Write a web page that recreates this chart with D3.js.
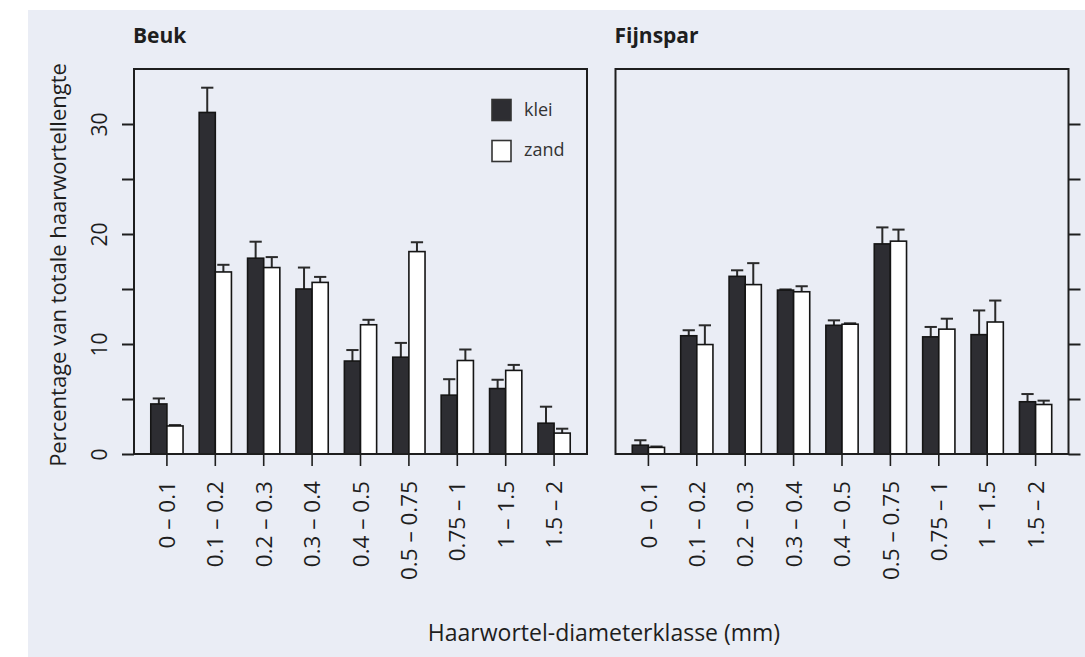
<!DOCTYPE html>
<html>
<head>
<meta charset="utf-8">
<script src="https://cdn.jsdelivr.net/npm/d3@7"></script>
<style>
  html, body { margin: 0; padding: 0; background: #ffffff; }
  svg { display: block; }
  text { font-family: "Open Sans", "Noto Sans", sans-serif; fill: #1e1e1e; }
</style>
</head>
<body>
<svg id="chart" width="1085" height="657"></svg>
<script>
// ---------- data ----------
const categories = ["0 \u2013 0.1", "0.1 \u2013 0.2", "0.2 \u2013 0.3", "0.3 \u2013 0.4", "0.4 \u2013 0.5",
                    "0.5 \u2013 0.75", "0.75 \u2013 1", "1 \u2013 1.5", "1.5 \u2013 2"];
const seriesNames = ["klei", "zand"];
const panelTitles = ["Beuk", "Fijnspar"];

// Beuk (beech) – mean and standard error
const beukKlei   = [4.55, 31.05, 17.8, 15.0, 8.45, 8.8, 5.35, 5.95, 2.8];
const beukKleiSE = [0.5, 2.25, 1.5, 1.95, 1.0, 1.3, 1.45, 0.8, 1.5];
const beukZand   = [2.55, 16.55, 16.95, 15.6, 11.75, 18.4, 8.5, 7.6, 1.9];
const beukZandSE = [0.08, 0.65, 0.95, 0.5, 0.45, 0.85, 1.0, 0.5, 0.4];

// Fijnspar (spruce) – mean and standard error
const fijnKlei   = [0.8, 10.75, 16.15, 14.9, 11.7, 19.1, 10.65, 10.85, 4.75];
const fijnKleiSE = [0.45, 0.5, 0.55, 0.06, 0.45, 1.5, 0.9, 2.2, 0.7];
const fijnZand   = [0.6, 9.95, 15.4, 14.75, 11.8, 19.35, 11.35, 12.0, 4.5];
const fijnZandSE = [0.08, 1.75, 1.95, 0.5, 0.08, 1.05, 0.95, 1.95, 0.35];

const yTicks = [0, 5, 10, 15, 20, 25, 30];
const yLabelTicks = [0, 10, 20, 30];
const yMax = 35;

const xTitle = "Haarwortel-diameterklasse (mm)";
const yTitle = "Percentage van totale haarwortellengte";

// ---------- layout ----------
const svg = d3.select("#chart");
const colors = { klei: "#2d2d32", zand: "#ffffff" };
const ink = "#1e1e1e";

svg.append("rect").attr("x", 28).attr("y", 10).attr("width", 1085 - 28).attr("height", 657 - 10)
   .attr("fill", "#eaedf5");

const plotTop = 69, plotBottom = 454;
const panels = [
  { title: panelTitles[0], left: 134, right: 587, klei: beukKlei, kleiSE: beukKleiSE, zand: beukZand, zandSE: beukZandSE, axisSide: "left", legend: true },
  { title: panelTitles[1], left: 615.5, right: 1068.5, klei: fijnKlei, kleiSE: fijnKleiSE, zand: fijnZand, zandSE: fijnZandSE, axisSide: "right", legend: false }
];

const y = d3.scaleLinear().domain([0, yMax]).range([plotBottom, plotTop]);

panels.forEach(p => {
  const g = svg.append("g");
  const x0 = d3.scaleBand().domain(categories).range([p.left, p.right])
               .paddingInner(1 / 3).paddingOuter(1.04 / 3);
  const x1 = d3.scaleBand().domain(seriesNames).range([0, x0.bandwidth()]).padding(0);

  const rows = categories.map((c, i) => ({
    cat: c,
    vals: [
      { key: "klei", v: p.klei[i], se: p.kleiSE[i] },
      { key: "zand", v: p.zand[i], se: p.zandSE[i] }
    ]
  }));

  // error bars
  const capW = x1.bandwidth() * 0.76;
  rows.forEach(r => {
    r.vals.forEach(d => {
      const cx = x0(r.cat) + x1(d.key) + x1.bandwidth() / 2;
      g.append("line").attr("x1", cx).attr("x2", cx)
        .attr("y1", y(d.v)).attr("y2", y(d.v + d.se))
        .attr("stroke", "#2a2a2a").attr("stroke-width", 2);
      g.append("line").attr("x1", cx - capW / 2).attr("x2", cx + capW / 2)
        .attr("y1", y(d.v + d.se)).attr("y2", y(d.v + d.se))
        .attr("stroke", "#2a2a2a").attr("stroke-width", 2);
    });
  });

  // bars
  g.selectAll("g.grp").data(rows).join("g")
    .attr("class", "grp")
    .attr("transform", d => `translate(${x0(d.cat)},0)`)
    .selectAll("rect").data(d => d.vals).join("rect")
    .attr("x", d => x1(d.key))
    .attr("y", d => y(d.v))
    .attr("width", x1.bandwidth())
    .attr("height", d => y(0) - y(d.v))
    .attr("fill", d => colors[d.key])
    .attr("stroke", "#151515")
    .attr("stroke-width", 1.6);

  // box
  g.append("rect").attr("x", p.left).attr("y", plotTop)
    .attr("width", p.right - p.left).attr("height", plotBottom - plotTop)
    .attr("fill", "none").attr("stroke", ink).attr("stroke-width", 2);

  // x axis
  const xAxis = d3.axisBottom(x0).tickSize(12).tickSizeOuter(0);
  const gx = g.append("g").attr("transform", `translate(0,${plotBottom})`).call(xAxis);
  gx.select(".domain").remove();
  gx.selectAll(".tick line").attr("stroke", ink).attr("stroke-width", 1.6);
  gx.selectAll(".tick text")
    .attr("transform", "rotate(-90)")
    .attr("x", -27).attr("y", 0).attr("dy", "0.36em")
    .attr("text-anchor", "end")
    .style("font-size", "22.5px").style("font-family", "'Open Sans', sans-serif")
    .attr("fill", ink);

  // y axis
  let gy;
  if (p.axisSide === "left") {
    const yAxis = d3.axisLeft(y).tickValues(yTicks).tickSize(12)
      .tickFormat(v => yLabelTicks.includes(v) ? String(v) : "");
    gy = g.append("g").attr("transform", `translate(${p.left},0)`).call(yAxis);
    gy.selectAll(".tick text")
      .attr("transform", "rotate(-90)")
      .attr("x", 0).attr("y", -27).attr("dy", 0)
      .attr("text-anchor", "middle")
      .style("font-size", "21px").style("font-family", "'Open Sans', sans-serif")
      .attr("fill", ink);
  } else {
    const yAxis = d3.axisRight(y).tickValues(yTicks).tickSize(12).tickFormat("");
    gy = g.append("g").attr("transform", `translate(${p.right},0)`).call(yAxis);
  }
  gy.select(".domain").remove();
  gy.selectAll(".tick line").attr("stroke", ink).attr("stroke-width", 2);

  // title
  g.append("text").attr("x", p.left - 1).attr("y", 43)
    .style("font-size", "21px").style("font-weight", "700").text(p.title);

  // legend
  if (p.legend) {
    const lg = g.append("g");
    seriesNames.forEach((s, i) => {
      lg.append("rect").attr("x", 492).attr("y", 99.5 + i * 41).attr("width", 19).attr("height", 21)
        .attr("fill", colors[s]).attr("stroke", "#333").attr("stroke-width", 1.6);
      lg.append("text").attr("x", 524).attr("y", 116 + i * 40)
        .style("font-size", "18px").style("fill", "#333").text(s);
    });
  }
});

// axis titles
svg.append("text").attr("x", 604).attr("y", 641).attr("text-anchor", "middle")
   .style("font-size", "23px").text(xTitle);
svg.append("text").attr("transform", "translate(66,265) rotate(-90)").attr("text-anchor", "middle")
   .style("font-size", "22px").text(yTitle);
</script>
</body>
</html>
